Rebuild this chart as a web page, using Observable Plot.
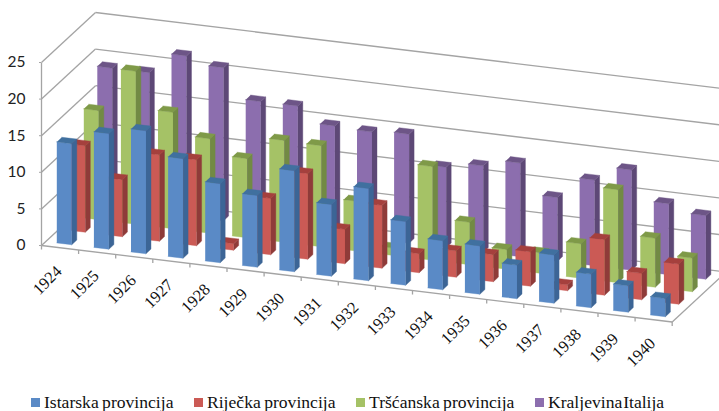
<!DOCTYPE html>
<html><head><meta charset="utf-8">
<script src="https://cdn.jsdelivr.net/npm/d3@7"></script>
<script src="https://cdn.jsdelivr.net/npm/@observablehq/plot@0.6"></script>
<style>
html,body{margin:0;padding:0;background:#fff;width:719px;height:411px;overflow:hidden}
#legend{position:relative;height:21px;font-family:"Liberation Serif",serif;font-size:17.6px;color:#111}
#legend span{position:absolute;top:2px;white-space:nowrap;line-height:20px;word-spacing:-1px}
#legend i{position:absolute;top:7.5px;width:9px;height:9px}
</style></head><body>
<div id="chart"></div><div id="legend"></div>
<script>
const years = [1924,1925,1926,1927,1928,1929,1930,1931,1932,1933,1934,1935,1936,1937,1938,1939,1940];
const istarska  = [13.8,15.8,16.8,13.6,10.8,9.8,13.8,9.8,12.6,8.7,6.7,6.6,4.6,6.6,4.6,3.6,2.5];
const rijecka   = [11.8,7.8,11.8,11.75,0.9,7.7,11.7,4.7,8.6,2.6,3.6,3.7,4.7,0.8,7.6,3.6,5.5];
const trscanska = [14.9,20.9,15.9,12.9,10.8,13.9,13.8,6.8,1,12.8,5.8,2.7,2.8,4.7,12.7,6.7,4.6];
const italija   = [19,19,21.9,20.9,16.9,16.9,14.8,14.6,14.9,11,11.8,12.8,8.7,11.7,13.7,9.7,8.7];
const seriesNames = ["Istarska provincija","Riječka provincija","Tršćanska provincija","Kraljevina Italija"];
const seriesValues = [istarska,rijecka,trscanska,italija];
const frontColors = ["#5a8ac6","#cb5a55","#a5c266","#8c6eae"];
const sideColors  = ["#3c6596","#8f3b39","#728a44","#5d4876"];
const topColors   = ["#40709f","#a5403d","#7f9a48","#6d5587"];
const valueTicks = [0,5,10,15,20,25];
const legendLeft = [31,194,356,535];

// oblique projection: category, depth slot, value -> plane coordinates
const depthX = 13.5/37.1, depthY = 12.5/7.32, catY = -4.5/7.32;
const P = (c,d,v) => ({X: c + depthX*d, Y: v + catY*c + depthY*d});
const nC = years.length, nD = seriesNames.length;
const c0 = 0.298, cw = 0.404, d0 = 0.315, dw = 0.37;

const faces = [];
let id = 0;
const addFace = (pts,fill) => { id++; pts.forEach(p => faces.push({...P(...p), id, fill})); };
for (let s = nD-1; s >= 0; s--) {
  for (let c = 0; c < nC; c++) {
    const v = seriesValues[s][c];
    const a = c+c0, b = a+cw, n = s+d0, f = n+dw;
    addFace([[a,n,0],[b,n,0],[b,n,v],[a,n,v]], frontColors[s]);
    addFace([[b,n,0],[b,f,0],[b,f,v],[b,n,v]], sideColors[s]);
    addFace([[a,n,v],[b,n,v],[b,f,v],[a,f,v]], topColors[s]);
  }
}
const seg = (a,b) => { const A=P(...a),B=P(...b); return {x1:A.X,y1:A.Y,x2:B.X,y2:B.Y}; };
const grid = [];
valueTicks.forEach(v => {
  grid.push(seg([0,0,v],[0,nD,v]));
  grid.push(seg([0,nD,v],[nC,nD,v]));
});
grid.push(seg([0,0,0],[nC,0,0]));
grid.push(seg([nC,0,0],[nC,nD,0]));
grid.push(seg([0,0,0],[0,0,25]));
const ticks = d3.range(nC+1).map(c => seg([c,0,0],[c,0,-0.55]));
const labels = years.map((y,c) => ({...P(c+0.5,0,-3.0), y}));

const W = 719, H = 390, ux = 37.1, uy = 7.32, ox = 41, oy = 245;
const chart = Plot.plot({
  width: W, height: H, marginLeft: ox, marginRight: 0, marginTop: 0, marginBottom: 0,
  x: {domain: [-ox/ux, (W-ox)/ux], range: [0,W], axis: null},
  y: {domain: [oy/uy, (oy-H)/uy], range: [0,H], axis: null},
  color: {type: "identity"},
  style: {background: "#fff", overflow: "hidden"},
  marks: [
    Plot.link(grid, {x1:"x1",y1:"y1",x2:"x2",y2:"y2",stroke:"#a4a4a4",strokeWidth:1.3}),
    Plot.link(ticks, {x1:"x1",y1:"y1",x2:"x2",y2:"y2",stroke:"#a4a4a4",strokeWidth:1.3}),
    Plot.axisY({anchor:"left",ticks:valueTicks,tickSize:2,tickPadding:14,stroke:"#a4a4a4",
      fontSize:15.5,fontFamily:"Lato",fill:"#222",label:null,tickFormat:d=>d,textStroke:"none"}),
    Plot.line(faces, {x:"X",y:"Y",z:"id",fill:"fill",stroke:"fill",strokeWidth:0.4}),
    Plot.text(labels, {x:"X",y:"Y",text:d=>String(d.y),rotate:-45,textAnchor:"end",lineAnchor:"middle",
      dx:-1,dy:-1,fontFamily:"Liberation Serif",fontSize:16.5,fill:"#111"})
  ]
});
document.getElementById("chart").appendChild(chart);
const lg = document.getElementById("legend");
seriesNames.forEach((n,i) => {
  const sw = document.createElement("i"); sw.style.left = legendLeft[i]+"px"; sw.style.background = frontColors[i];
  const t = document.createElement("span"); t.style.left = (legendLeft[i]+13)+"px"; t.textContent = n;
  if (i === 3) t.style.wordSpacing = "-3.5px";
  lg.append(sw,t);
});
</script></body></html>
